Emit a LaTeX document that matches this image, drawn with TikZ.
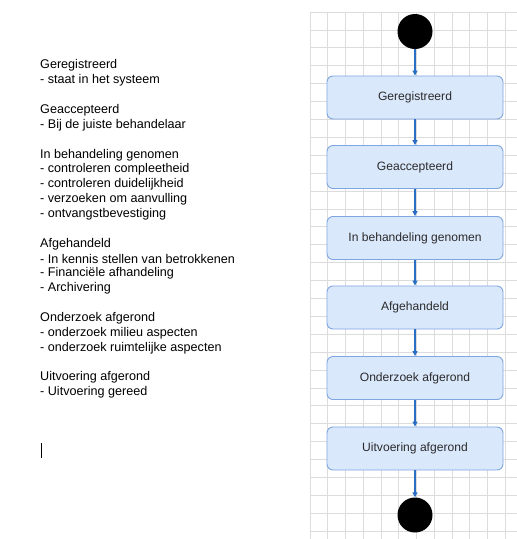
\documentclass[tikz,border=0pt]{standalone}
\usepackage{fontspec}
\setmainfont{Liberation Sans}
\usetikzlibrary{arrows.meta}
\definecolor{gridgray}{HTML}{DCDCDC}
\definecolor{boxfill}{HTML}{DAE8FC}
\definecolor{boxline}{HTML}{7EA6E0}
\definecolor{flowblue}{HTML}{2A6EC4}
\definecolor{boxtext}{HTML}{2B2B2B}
\tikzset{
  gridline/.style={draw=gridgray, line width=0.8pt},
  statebox/.style={draw=boxline, fill=boxfill, line width=0.9pt, rounded corners=6pt,
    minimum width=176pt, minimum height=43pt, inner sep=0pt,
    font=\fontsize{12.1}{14}\selectfont, text=boxtext},
  terminal/.style={circle, fill=black, minimum size=35pt, inner sep=0pt},
  flow/.style={draw=flowblue, line width=1.3pt, -{Triangle[length=5pt,width=5pt]}},
  notes/.style={anchor=west, font=\fontsize{12.6}{14.85}\selectfont, inner sep=0pt},
}
\begin{document}
\begin{tikzpicture}[x=1pt, y=-1pt]
  \useasboundingbox (0,0) rectangle (517,539);
  \fill[white] (0,0) rectangle (517,539);

  % drawing grid
  \foreach \i in {0,...,11} {
    \draw[gridline] (310+17.75*\i,12) -- (310+17.75*\i,539);
  }
  \foreach \j in {0,...,29} {
    \draw[gridline] (310,12+17.9*\j) -- (517,12+17.9*\j);
  }

  % state chart
  \node[terminal] (start) at (415,31.5) {};
  \node[statebox] (s1) at (415,97.5) {Geregistreerd};
  \node[statebox] (s2) at (415,167) {Geaccepteerd};
  \node[statebox] (s3) at (415,238) {In behandeling genomen};
  \node[statebox] (s4) at (415,307.5) {Afgehandeld};
  \node[statebox] (s5) at (415,378) {Onderzoek afgerond};
  \node[statebox] (s6) at (415,448.5) {Uitvoering afgerond};
  \node[terminal] (stop) at (415,515) {};

  \draw[flow] (start) -- (s1);
  \draw[flow] (s1) -- (s2);
  \draw[flow] (s2) -- (s3);
  \draw[flow] (s3) -- (s4);
  \draw[flow] (s4) -- (s5);
  \draw[flow] (s5) -- (s6);
  \draw[flow] (s6) -- (stop);

  % description of the states
  \foreach \k/\txt in {
    0/Geregistreerd,
    1/- staat in het systeem,
    3/Geaccepteerd,
    4/- Bij de juiste behandelaar,
    6/In behandeling genomen,
    7/- controleren compleetheid,
    8/- controleren duidelijkheid,
    9/- verzoeken om aanvulling,
    10/- ontvangstbevestiging,
    12/Afgehandeld,
    13/- In kennis stellen van betrokkenen,
    14/- Financiële afhandeling,
    15/- Archivering,
    17/Onderzoek afgerond,
    18/- onderzoek milieu aspecten,
    19/- onderzoek ruimtelijke aspecten,
    21/Uitvoering afgerond,
    22/- Uitvoering gereed} {
    \node[notes] (line\k) at (40,65.7+14.85*\k) {\txt};
  }

  % text cursor
  \draw[black, line width=0.8pt] (41,443) -- (41,458);
\end{tikzpicture}
\end{document}
